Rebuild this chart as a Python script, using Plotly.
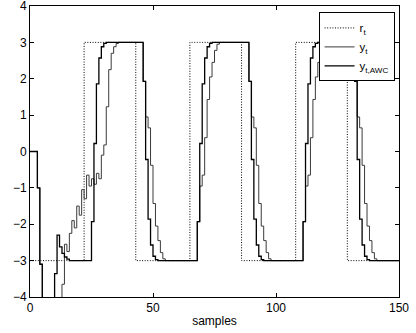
import plotly.graph_objects as go

samples = list(range(151))

r_t = ([-3] * 22 + [3] * 21 + [-3] * 22 + [3] * 21 + [-3] * 22 + [3] * 21 + [-3] * 22)

y_awc = [
    0, 0, 0, -1.0, -3.1,
    -4.6, -5.3, -5.6, -5.2, -4.5,
    -3.36, -2.3, -2.62, -2.8, -2.9, -2.96,
    -3, -3, -3, -3, -3, -3, -3, -3, -3,
    -1.93, 0.22, 1.86, 2.57, 2.88, 2.97,
    3, 3, 3, 3, 3, 3, 3, 3, 3, 3, 3, 3, 3, 3, 3,
    1.93, -0.22, -1.86, -2.57, -2.88, -2.97,
    -3, -3, -3, -3, -3, -3, -3, -3, -3, -3, -3, -3, -3, -3, -3, -3,
    -1.93, 0.22, 1.86, 2.57, 2.88, 2.97,
    3, 3, 3, 3, 3, 3, 3, 3, 3, 3, 3, 3, 3, 3, 3,
    1.93, -0.22, -1.86, -2.57, -2.88, -2.97,
    -3, -3, -3, -3, -3, -3, -3, -3, -3, -3, -3, -3, -3, -3, -3, -3,
    -1.93, 0.22, 1.86, 2.57, 2.88, 2.97,
    3, 3, 3, 3, 3, 3, 3, 3, 3, 3, 3, 3, 3, 3, 3,
    1.93, -0.22, -1.86, -2.57, -2.88, -2.97,
    -3, -3, -3, -3, -3, -3, -3, -3, -3, -3, -3, -3, -3,
]

y_t = [
    0, 0, 0, -1.0, -3.1,
    -4.8, -5.8, -6.5, -6.8, -6.6, -6.0, -5.2, -4.4,
    -3.65, -2.55, -2.75, -2.25, -1.9, -2.1, -1.5, -1.75, -1.05, -1.3,
    -0.65, -0.95, -0.75, -0.9, -0.6, -0.75, -0.1, 0.18, 1.23, 2.25,
    2.7, 2.88, 2.97,
    3, 3, 3, 3, 3, 3, 3, 3, 3, 3,
    1.93, 0.95, 0.65, -0.38, -1.43, -2.05, -2.45, -2.78, -2.95,
    -3, -3, -3, -3, -3, -3, -3, -3, -3, -3, -3, -3, -3,
    -1.93, -0.95, -0.65, 0.38, 1.43, 2.05, 2.45, 2.78, 2.95,
    3, 3, 3, 3, 3, 3, 3, 3, 3, 3, 3, 3,
    1.93, 0.95, 0.65, -0.38, -1.43, -2.05, -2.45, -2.78, -2.95,
    -3, -3, -3, -3, -3, -3, -3, -3, -3, -3, -3, -3, -3,
    -1.93, -0.95, -0.65, 0.38, 1.43, 2.05, 2.45, 2.78, 2.95,
    3, 3, 3, 3, 3, 3, 3, 3, 3, 3, 3, 3,
    1.93, 0.95, 0.65, -0.38, -1.43, -2.05, -2.45, -2.78, -2.95,
    -3, -3, -3, -3, -3, -3, -3, -3, -3, -3,
]

x_ticks = [0, 50, 100, 150]
y_ticks = [-4, -3, -2, -1, 0, 1, 2, 3, 4]

fig = go.Figure()
fig.add_trace(go.Scatter(x=samples, y=r_t, mode="lines", name="r<sub>t</sub>",
                         line=dict(color="black", width=1, dash="1px,1.6px", shape="hv")))
fig.add_trace(go.Scatter(x=samples, y=y_t, mode="lines", name="y<sub>t</sub>",
                         line=dict(color="#3a3a3a", width=1, shape="hv")))
fig.add_trace(go.Scatter(x=samples, y=y_awc, mode="lines", name="y<sub>t,AWC</sub>",
                         line=dict(color="black", width=1.3, shape="hv")))

axis_common = dict(showline=True, linecolor="black", linewidth=1, mirror="ticks",
                   ticks="inside", ticklen=4, tickcolor="black", showgrid=False,
                   zeroline=False, ticklabeloverflow="allow", automargin=False,
                   tickfont=dict(family="Arial", size=12, color="black"))

fig.update_xaxes(range=[0, 150], tickvals=x_ticks,
                 title=dict(text="samples", font=dict(family="Arial", size=12, color="black"),
                            standoff=2),
                 **axis_common)
fig.update_yaxes(range=[-4, 4], tickvals=y_ticks, **axis_common)

fig.update_layout(
    width=416, height=333,
    margin=dict(l=30, r=17, t=6, b=36, autoexpand=False),
    plot_bgcolor="white", paper_bgcolor="white",
    font=dict(family="Arial", size=12, color="black"),
    legend=dict(x=0.988, y=0.978, xanchor="right", yanchor="top",
                bordercolor="black", borderwidth=1, bgcolor="white",
                itemwidth=30, tracegroupgap=0,
                font=dict(family="Arial", size=11.5, color="black")),
)

fig.write_html("out.html", config={"displayModeBar": False})
